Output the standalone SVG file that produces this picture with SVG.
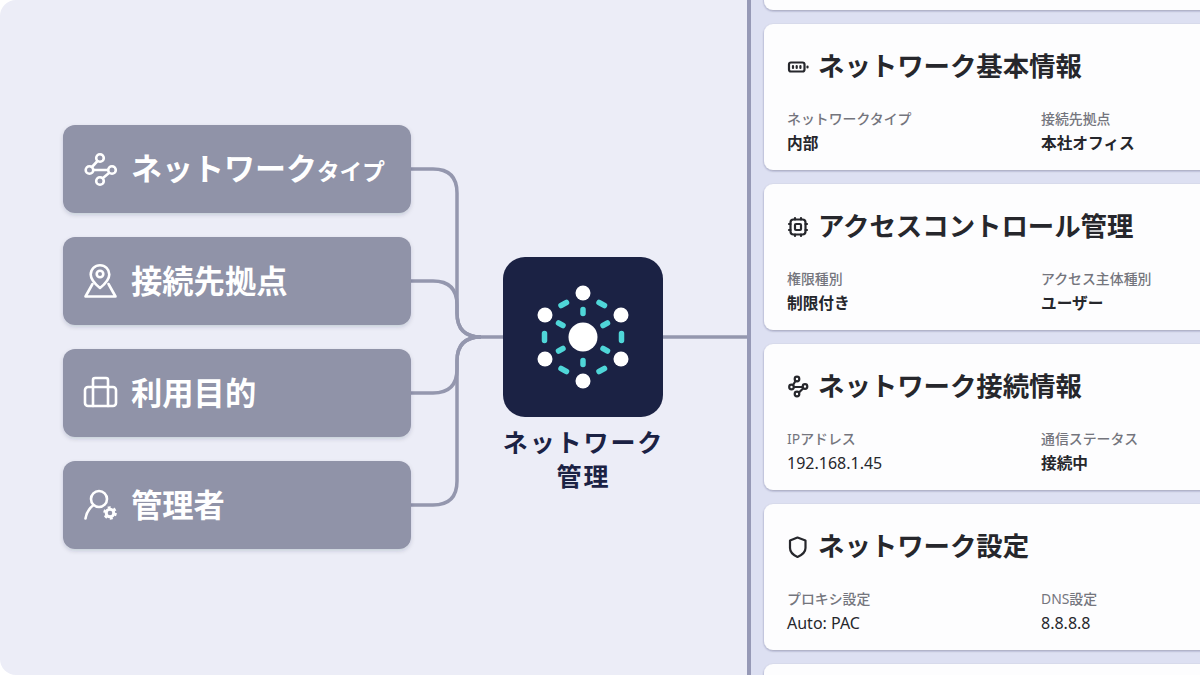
<svg xmlns="http://www.w3.org/2000/svg" width="1200" height="675" viewBox="0 0 1200 675">
<defs>
<style>
text{font-family:"Noto Sans CJK JP","Noto Sans",sans-serif}
.n{fill:#9093a8;filter:url(#s)}
.c{fill:#fdfdfe;filter:url(#s2)}
.nt{fill:#fff;font-size:31.300px;font-weight:700}
.ic{fill:none;stroke:#fff;stroke-width:2.600;stroke-linecap:round;stroke-linejoin:round}
.ik{fill:none;stroke:#26272c;stroke-width:2.200;stroke-linecap:round;stroke-linejoin:round}
.h{fill:#26272c;font-size:26.400px;font-weight:700}
.l{fill:#74757d;font-size:13.900px;font-weight:500}
.v{fill:#26272c;font-size:15.700px;font-weight:700}
.a{fill:#26272c;font-size:16px;font-family:"Noto Sans",sans-serif;font-weight:400}
.t{font-family:"Noto Sans",sans-serif;font-weight:400}
.ln{fill:none;stroke:#9497ae;stroke-width:3.500}
.d{stroke:#4fd6d8;stroke-width:5.500;stroke-linecap:round;fill:none}
</style>
<filter id="s" x="-5%" y="-10%" width="110%" height="125%"><feDropShadow dx="0" dy="2" stdDeviation="2" flood-color="#1b2244" flood-opacity=".16"/></filter>
<filter id="s2" x="-5%" y="-10%" width="110%" height="125%"><feDropShadow dx="0" dy="1" stdDeviation="1" flood-color="#1b2244" flood-opacity=".35"/></filter>
</defs>
<rect width="1200" height="675" fill="#fff"/>
<rect width="780" height="675" rx="16" fill="#ecedf7"/>
<rect x="749" width="451" height="675" fill="#dde0f2"/>
<g id="connectors">
<path class="ln" d="M411 169H433Q457 169 457 193V313Q457 337 481 337H503"/>
<path class="ln" d="M411 281H433Q457 281 457 305V313Q457 337 481 337"/>
<path class="ln" d="M411 393H433Q457 393 457 369V361Q457 337 481 337"/>
<path class="ln" d="M411 505H433Q457 505 457 481V361Q457 337 481 337"/>
<path class="ln" d="M663 337H748"/>
<path fill="none" stroke="#9699b6" stroke-width="4" d="M749 0V675"/>
</g>
<g id="node-type">
<rect class="n" x="63" y="125" width="348" height="88" rx="12"/>
<g class="ic"><circle cx="100" cy="158" r="3.800"/><circle cx="89.500" cy="170" r="3.800"/><circle cx="112" cy="170" r="3.800"/><circle cx="100" cy="181" r="3.800"/><path d="M93.500 170H108M97.500 161L92 167M109 173L103 178"/></g>
<text class="nt" x="131" y="180" style="font-size:31px">ネットワーク<tspan font-size="22.600">タイプ</tspan></text>
</g>
<g id="node-site">
<rect class="n" x="63" y="237" width="348" height="88" rx="12"/>
<g class="ic"><path d="M100 288C95 284 90.700 279.500 90.700 274.500A9.300 9.300 0 0 1 109.300 274.500C109.300 279.500 105 284 100 288Z"/><circle cx="100" cy="274" r="3.300"/><path d="M92.500 284L85.500 296.500H115.500L108.500 284"/></g>
<text class="nt" x="131" y="293">接続先拠点</text>
</g>
<g id="node-purpose">
<rect class="n" x="63" y="349" width="348" height="88" rx="12"/>
<g class="ic"><rect x="85" y="387" width="31" height="19" rx="3"/><path d="M93 387V380Q93 378 95 378H106Q108 378 108 380V387M93 387V406M108 387V406"/></g>
<text class="nt" x="131" y="405">利用目的</text>
</g>
<g id="node-admin">
<rect class="n" x="63" y="461" width="348" height="88" rx="12"/>
<g class="ic"><circle cx="99" cy="499" r="8"/><path d="M85.500 518.500Q87 510 93 505.500"/></g>
<g fill="none" stroke="#fff"><circle cx="110" cy="513" r="3.800" stroke-width="3"/><circle cx="110" cy="513" r="5.800" stroke-width="2" stroke-dasharray="3 3.070"/></g>
<text class="nt" x="131" y="517">管理者</text>
</g>
<g id="node-center">
<rect x="503" y="257" width="160" height="160" rx="22" fill="#1b2244"/>
<g>
<path class="d" d="M583 309.500V313.500M583 360.500V364.500M561 305.500L566.500 302.500M599 302.500L604.500 305.500M561 368.500L566.500 371.500M599 371.500L604.500 368.500M544.500 333.500V340.500M621.500 333.500V340.500M558.500 323L563 325.500M603 325.500L607.500 323M558.500 351L563 348.500M603 348.500L607.500 351"/>
<g fill="#fff"><circle cx="583" cy="337" r="14.500"/><circle cx="583" cy="293" r="7.500"/><circle cx="583" cy="381" r="7.500"/><circle cx="545" cy="315" r="7.500"/><circle cx="621" cy="315" r="7.500"/><circle cx="545" cy="359" r="7.500"/><circle cx="621" cy="359" r="7.500"/></g>
</g>
<text x="583.500" y="452" text-anchor="middle" fill="#1b2244" font-size="25" font-weight="700" letter-spacing="1.900">ネットワーク</text>
<text x="583.500" y="486" text-anchor="middle" fill="#1b2244" font-size="25" font-weight="700" letter-spacing="1.900">管理</text>
</g>
<g id="card-top"><rect class="c" x="764" y="-100" width="460" height="110" rx="9"/></g>
<g id="card-basic">
<rect class="c" x="764" y="24" width="460" height="146" rx="9"/>
<g class="ik"><rect x="789" y="62.500" width="15.500" height="9" rx="2"/><path d="M793 66V68M796.700 66V68M800.400 66V68M807.500 66.500V67.500"/></g>
<text class="h" x="818" y="76">ネットワーク基本情報</text>
<text class="l" x="787" y="124">ネットワークタイプ</text><text class="v" x="787" y="149">内部</text>
<text class="l" x="1041" y="124">接続先拠点</text><text class="v" x="1041" y="149">本社オフィス</text>
</g>
<g id="card-access">
<rect class="c" x="764" y="184" width="460" height="146" rx="9"/>
<g class="ik"><rect x="790.500" y="219.500" width="15" height="15" rx="3"/><rect x="795" y="224" width="6" height="6" rx="1"/><path d="M789 224H790.500M789 230H790.500M805.500 224H807M805.500 230H807M795 218V219.500M801 218V219.500M795 234.500V236M801 234.500V236"/></g>
<text class="h" x="818" y="236">アクセスコントロール管理</text>
<text class="l" x="787" y="284">権限種別</text><text class="v" x="787" y="309">制限付き</text>
<text class="l" x="1041" y="284">アクセス主体種別</text><text class="v" x="1041" y="309">ユーザー</text>
</g>
<g id="card-connect">
<rect class="c" x="764" y="344" width="460" height="146" rx="9"/>
<g class="ik"><circle cx="797" cy="379" r="2.300"/><circle cx="791.500" cy="387" r="2.300"/><circle cx="805" cy="386.500" r="2.300"/><circle cx="797" cy="394" r="2.300"/><path d="M794 387H802.500M795.500 381L793 385M803 388.500L799 392.500"/></g>
<text class="h" x="818" y="396">ネットワーク接続情報</text>
<text class="l" x="787" y="444"><tspan class="t">IP</tspan>アドレス</text><text class="a" x="787" y="469">192.168.1.45</text>
<text class="l" x="1041" y="444">通信ステータス</text><text class="v" x="1041" y="469">接続中</text>
</g>
<g id="card-settings">
<rect class="c" x="764" y="504" width="460" height="146" rx="9"/>
<path class="ik" d="M797.500 537.500L805.500 540.500V548C805.500 552 802 555 797.500 557C793 555 790 552 790 548V540.500Z"/>
<text class="h" x="818" y="556">ネットワーク設定</text>
<text class="l" x="787" y="604">プロキシ設定</text><text class="a" x="787" y="629">Auto: PAC</text>
<text class="l" x="1041" y="604"><tspan class="t">DNS</tspan>設定</text><text class="a" x="1041" y="629">8.8.8.8</text>
</g>
<g id="card-bottom"><rect class="c" x="764" y="664" width="460" height="110" rx="9"/></g>
</svg>
